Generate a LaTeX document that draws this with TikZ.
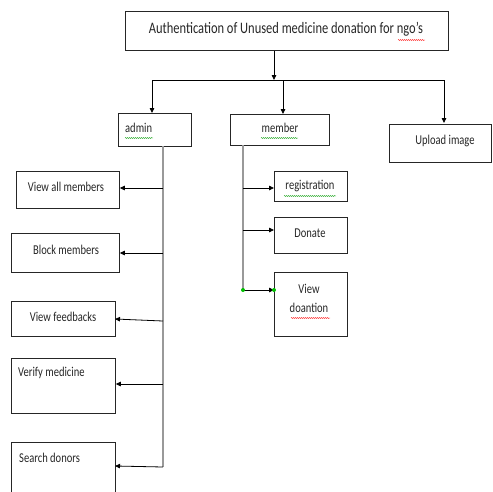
\documentclass[tikz,border=0pt]{standalone}
\usepackage{fontspec}
\setmainfont{Carlito}[FakeStretch=0.78]
\usetikzlibrary{arrows.meta,decorations.pathmorphing}
\tikzset{
  box/.style={draw=black!85, line width=0.8pt, rectangle, anchor=north west, inner sep=0pt, font=\fontsize{13.5}{15}\selectfont},
  arr/.style={-{Triangle[length=5pt,width=4.5pt]}, line width=0.8pt, black},
  trunk/.style={line width=1.3pt, black!40},
  lbl/.style={font=\fontsize{13.5}{15}\selectfont, inner sep=0pt, text=black!85},
  squig/.style={decorate, decoration={snake, amplitude=0.5pt, segment length=2pt}, line width=0.4pt},
  gdot/.style={circle, fill=green!75!black, inner sep=0pt, minimum size=4pt}
}
\begin{document}
\begin{tikzpicture}[x=1pt,y=-1pt]
\useasboundingbox (0,0) rectangle (493,491);
% boxes
\node[box, minimum width=323, minimum height=39] (title) at (125,11) {};
\node[lbl, font=\fontsize{16}{18}\selectfont] (titlet) at (286,29) {Authentication of Unused medicine donation for ngo’s};
\node[box, minimum width=73, minimum height=33] (admin) at (118,113) {};
\node[lbl, anchor=west] (admint) at (125,128) {admin};
\node[box, minimum width=99, minimum height=31] (member) at (230,114) {};
\node[lbl] (membert) at (280,128) {member};
\node[box, minimum width=102, minimum height=38] (upload) at (389,124) {};
\node[lbl] (uploadt) at (445,141) {Upload image};
% admin children
\node[box, minimum width=103, minimum height=37] (vam) at (16,171) {};
\node[lbl] (vamt) at (66,187) {View all members};
\node[box, minimum width=108, minimum height=39] (blk) at (11,233) {};
\node[lbl] (blkt) at (66,250) {Block members};
\node[box, minimum width=104, minimum height=35] (vfb) at (11,301) {};
\node[lbl] (vfbt) at (63,317) {View feedbacks};
\node[box, minimum width=104, minimum height=55] (ver) at (11,358) {};
\node[lbl, anchor=west] (vert) at (18,373) {Verify medicine};
\node[box, minimum width=104, minimum height=60] (sd) at (11,442) {};
\node[lbl, anchor=west] (sdt) at (19,458) {Search donors};
% member children
\node[box, minimum width=73, minimum height=30] (reg) at (274,171) {};
\node[lbl] (regt) at (310,186) {registration};
\node[box, minimum width=73, minimum height=36] (don) at (274,217) {};
\node[lbl] (dont) at (310,233) {Donate};
\node[box, minimum width=73, minimum height=64] (vd) at (274,272) {};
\node[lbl, align=center] (vdt) at (309,298) {View\\[4pt]doantion};
% squiggly underlines
\draw[squig, green!60!black] (125,138) -- (153,138);
\draw[squig, green!60!black] (261,138) -- (298,138);
\draw[squig, green!60!black] (284,196) -- (336,196);
\draw[squig, red] (398,40) -- (425,40);
\draw[squig, red] (291,318) -- (330,318);
% top connectors
\coordinate (hub) at (274,80);
\coordinate (hubL) at (152,80);
\coordinate (hubM) at (283,80);
\coordinate (hubR) at (444,80);
\draw[arr] (title.south -| hub) -- (hub);
\draw[line width=0.8pt] (hubL) -- (hubR);
\draw[arr] (hubL) -- (hubL |- admin.north);
\draw[arr] (hubM) -- (hubM |- member.north);
\draw[arr] (hubR) -- (444,123);
% admin trunk
\coordinate (aTop) at (163,146);
\coordinate (aEnd) at (163,467);
\draw[trunk] (aTop) -- (aEnd);
\coordinate (a1) at (163,188);
\coordinate (a2) at (163,253);
\coordinate (a3) at (163,321);
\coordinate (a4) at (163,384);
\draw[arr] (a1) -- (a1 -| vam.east);
\draw[arr] (a2) -- (a2 -| blk.east);
\draw[arr] (a3) -- (115,319);
\draw[arr] (a4) -- (a4 -| ver.east);
\draw[arr] (aEnd) -- (115,466);
% member trunk
\coordinate (mTop) at (243,145);
\coordinate (mEnd) at (243,290);
\draw[trunk] (mTop) -- (mEnd);
\coordinate (m1) at (243,188);
\coordinate (m2) at (243,230);
\draw[arr] (m1) -- (m1 -| reg.west);
\draw[arr] (m2) -- (m2 -| don.west);
\draw[arr] (mEnd) -- (mEnd -| vd.west);
\node[gdot] (g1) at (mEnd) {};
\node[gdot] (g2) at (mEnd -| vd.west) {};
\end{tikzpicture}
\end{document}
